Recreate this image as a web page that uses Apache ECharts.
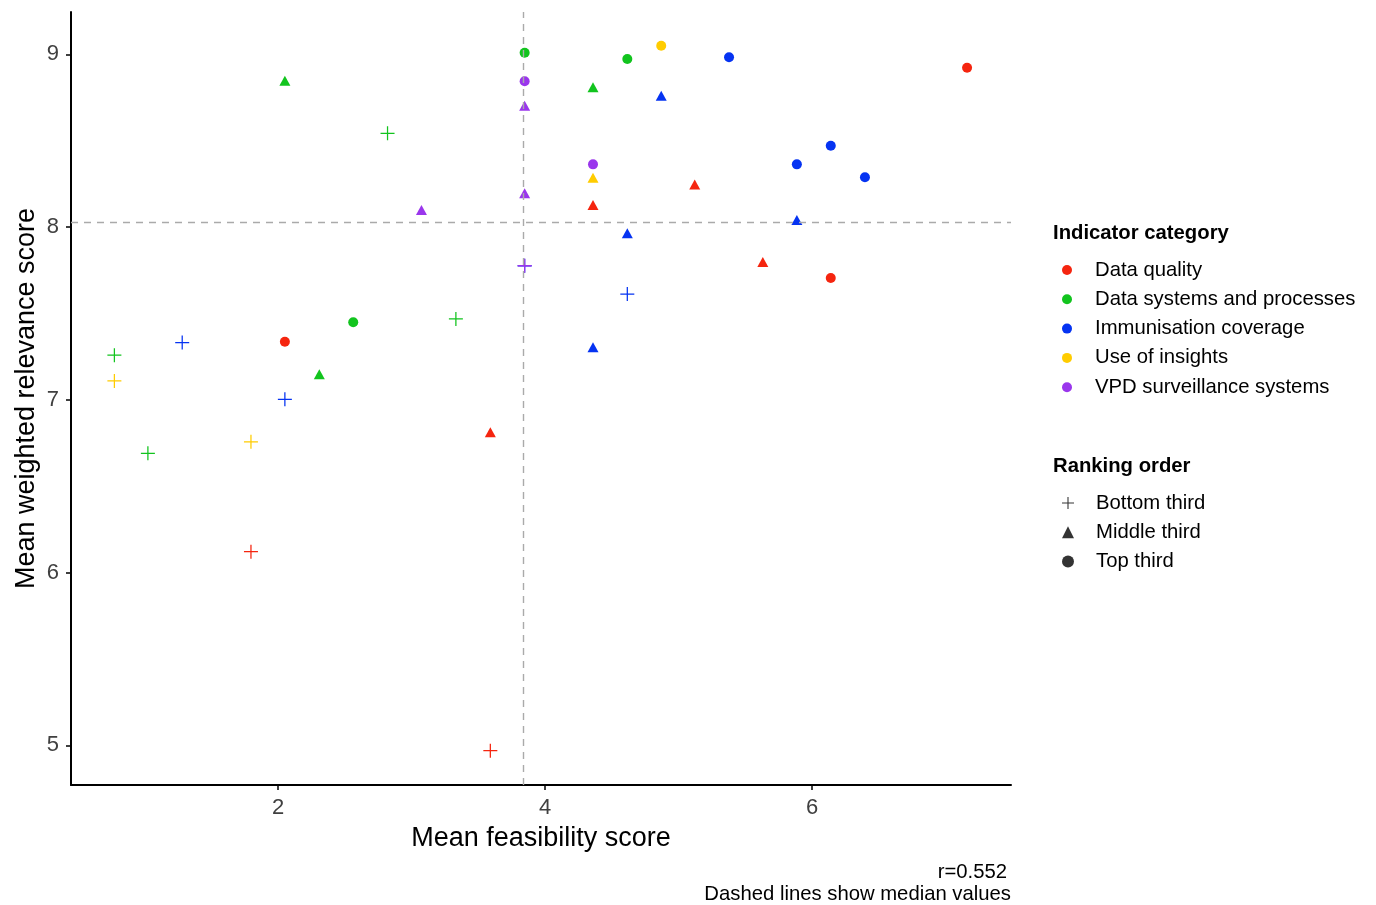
<!DOCTYPE html>
<html>
<head>
<meta charset="utf-8">
<script src="https://cdn.jsdelivr.net/npm/echarts@6/dist/echarts.min.js"></script>
<style>
html,body{margin:0;padding:0;background:#fff;}
#chart{width:1376px;height:905px;}
</style>
</head>
<body>
<div id="chart"></div>
<script>
// ---- data ----
const categories = ['Data quality', 'Data systems and processes', 'Immunisation coverage', 'Use of insights', 'VPD surveillance systems'];
const rankLabels = ['Bottom third', 'Middle third', 'Top third'];
const xTicks = [2, 4, 6];
const yTicks = [5, 6, 7, 8, 9];
const medianFeasibility = 3.844;
const medianRelevance = 8.033;
const correlationText = 'r=0.552';

const dataQualityX = [7.161, 6.140, 2.051, 5.121, 4.359, 5.631, 3.590, 1.797, 3.590];
const dataQualityY = [8.922, 7.705, 7.336, 8.247, 8.128, 7.798, 6.812, 6.121, 4.969];
const dataQualityRank = ['Top third', 'Top third', 'Top third', 'Middle third', 'Middle third', 'Middle third', 'Middle third', 'Bottom third', 'Bottom third'];

const dataSystemsX = [3.847, 4.616, 2.563, 2.051, 4.359, 2.309, 2.820, 3.332, 0.774, 1.025];
const dataSystemsY = [9.009, 8.973, 7.449, 8.847, 8.809, 7.148, 8.543, 7.468, 7.258, 6.690];
const dataSystemsRank = ['Top third', 'Top third', 'Top third', 'Middle third', 'Middle third', 'Middle third', 'Bottom third', 'Bottom third', 'Bottom third', 'Bottom third'];

const immunisationX = [5.378, 6.140, 5.886, 6.396, 4.870, 4.616, 5.886, 4.359, 3.847, 4.616, 1.282, 2.051];
const immunisationY = [8.983, 8.471, 8.363, 8.288, 8.760, 7.964, 8.041, 7.304, 7.776, 7.612, 7.331, 7.003];
const immunisationRank = ['Top third', 'Top third', 'Top third', 'Top third', 'Middle third', 'Middle third', 'Middle third', 'Middle third', 'Bottom third', 'Bottom third', 'Bottom third', 'Bottom third'];

const insightsX = [4.870, 4.359, 0.774, 1.797];
const insightsY = [9.050, 8.286, 7.109, 6.757];
const insightsRank = ['Top third', 'Middle third', 'Bottom third', 'Bottom third'];

const vpdX = [3.847, 4.359, 3.847, 3.847, 3.074, 3.847];
const vpdY = [8.844, 8.363, 8.702, 8.195, 8.099, 7.776];
const vpdRank = ['Top third', 'Top third', 'Middle third', 'Middle third', 'Middle third', 'Bottom third'];

const categoryColors = ['#F5250F', '#12C41E', '#0533F2', '#FFCC00', '#9A36EC'];

// ---- styling ----
const FONT = '"Liberation Sans", Arial, sans-serif';
const plusPath = 'path://M0,9.1H20V10.9H0Z M9.1,0H10.9V20H9.1Z';
const shapeSymbol = {
  'Bottom third': { symbol: plusPath, size: 14 },
  'Middle third': { symbol: 'triangle', size: [11, 10] },
  'Top third': { symbol: 'circle', size: 10 }
};

const catData = [
  [dataQualityX, dataQualityY, dataQualityRank],
  [dataSystemsX, dataSystemsY, dataSystemsRank],
  [immunisationX, immunisationY, immunisationRank],
  [insightsX, insightsY, insightsRank],
  [vpdX, vpdY, vpdRank]
];

const series = categories.map((name, i) => {
  const [xs, ys, rk] = catData[i];
  return {
    name: name,
    type: 'scatter',
    itemStyle: { color: categoryColors[i], opacity: 1 },
    data: xs.map((x, j) => ({
      value: [x, ys[j]],
      symbol: shapeSymbol[rk[j]].symbol,
      symbolSize: shapeSymbol[rk[j]].size
    })),
    emphasis: { disabled: true },
    z: 3
  };
});

rankLabels.forEach(r => {
  series.push({
    name: r,
    type: 'scatter',
    symbol: shapeSymbol[r].symbol,
    itemStyle: { color: '#000' },
    data: []
  });
});

// median lines drawn on top
series.push({
  name: 'median',
  type: 'scatter',
  data: [],
  z: 10,
  markLine: {
    silent: true,
    symbol: 'none',
    label: { show: false },
    lineStyle: { color: '#AAAAAA', type: [7, 6], width: 1.4 },
    emphasis: { disabled: true },
    data: [{ xAxis: medianFeasibility }, { yAxis: medianRelevance }],
    animation: false
  }
});

const legendText = { fontSize: 20.3, lineHeight: 21, color: '#000', fontFamily: FONT, padding: [0, 0, 0, 17] };

const chart = echarts.init(document.getElementById('chart'));
chart.setOption({
  animation: false,
  backgroundColor: '#ffffff',
  textStyle: { fontFamily: FONT },
  grid: { left: 71, top: 12, right: 365, bottom: 120 },
  xAxis: {
    type: 'value',
    min: 0.449, max: 7.49,
    name: 'Mean feasibility score',
    nameLocation: 'middle',
    nameGap: 40,
    nameTextStyle: { fontSize: 27, color: '#000', fontFamily: FONT },
    axisLine: { show: true, onZero: false, lineStyle: { color: '#000', width: 2 } },
    axisTick: { show: true, length: 5, lineStyle: { color: '#000', width: 1.5 }, customValues: xTicks },
    axisLabel: { fontSize: 22, color: '#404040', margin: 12, customValues: xTicks, fontFamily: FONT },
    splitLine: { show: false }
  },
  yAxis: {
    type: 'value',
    min: 4.77, max: 9.245,
    name: 'Mean weighted relevance score',
    nameLocation: 'middle',
    nameGap: 31,
    nameMoveOverlap: false,
    nameTextStyle: { fontSize: 27, color: '#000', fontFamily: FONT },
    axisLine: { show: true, onZero: false, lineStyle: { color: '#000', width: 2 } },
    axisTick: { show: true, length: 5, lineStyle: { color: '#000', width: 1.5 }, customValues: yTicks },
    axisLabel: { fontSize: 22, color: '#404040', margin: 12, customValues: yTicks, fontFamily: FONT },
    splitLine: { show: false }
  },
  legend: [
    {
      orient: 'vertical',
      left: 1062, top: 259.5,
      padding: 0,
      itemWidth: 12, itemHeight: 10,
      itemGap: 8.3,
      selectedMode: false,
      icon: 'circle',
      data: categories,
      textStyle: legendText
    },
    {
      orient: 'vertical',
      left: 1062, top: 492.5,
      padding: 0,
      itemWidth: 12, itemHeight: 12,
      itemGap: 8.3,
      selectedMode: false,
      data: [
        { name: 'Bottom third', icon: plusPath },
        { name: 'Middle third', icon: 'triangle' },
        { name: 'Top third', icon: 'circle' }
      ],
      textStyle: legendText
    }
  ],
  graphic: [
    { type: 'text', x: 1053, y: 233, style: { text: 'Indicator category', font: 'bold 20.3px ' + FONT, fill: '#000', verticalAlign: 'middle' } },
    { type: 'text', x: 1053, y: 466, style: { text: 'Ranking order', font: 'bold 20.3px ' + FONT, fill: '#000', verticalAlign: 'middle' } },
    { type: 'text', x: 1007, y: 872, style: { text: correlationText, font: '20.3px ' + FONT, fill: '#000', align: 'right', verticalAlign: 'middle' } },
    { type: 'text', x: 1011, y: 894, style: { text: 'Dashed lines show median values', font: '20.3px ' + FONT, fill: '#000', align: 'right', verticalAlign: 'middle' } }
  ],
  series: series
});
</script>
</body>
</html>
